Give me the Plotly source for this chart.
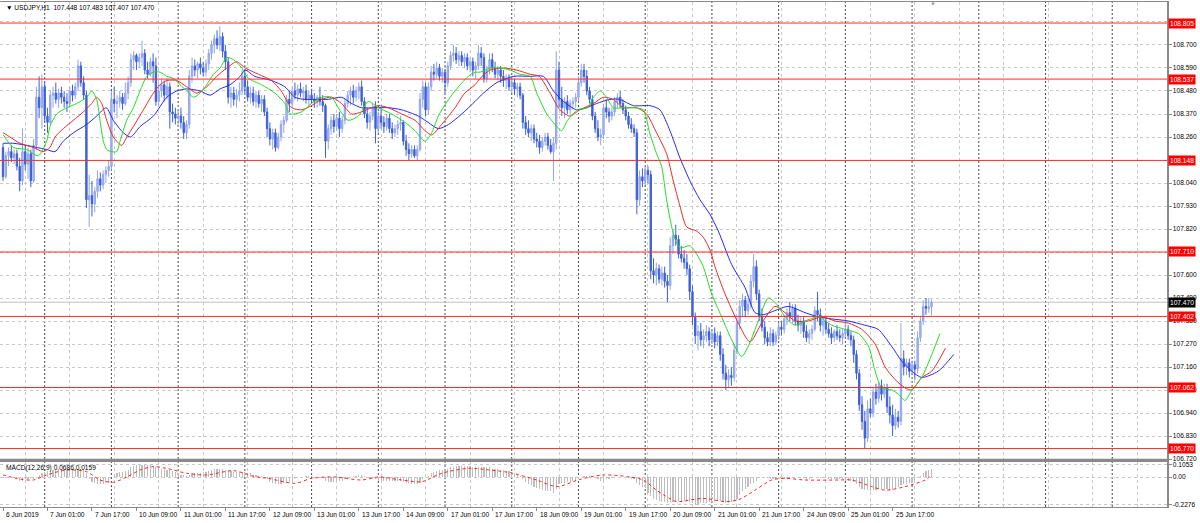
import plotly.graph_objects as go

W, H = 1200, 523

# ---------------- data (USDJPY H1, bar index 0 = 6 Jun 2019 09:00) ----------------
opens = [
108.21,108.07,108.17,108.19,108.16,108.18,108.12,108.05,108.19,108.13,
108.18,108.05,108.22,108.45,108.40,108.50,108.36,108.33,108.46,108.47,
108.44,108.47,108.45,108.43,108.42,108.48,108.46,108.50,108.60,108.52,
108.46,107.96,107.98,107.94,108.00,108.06,108.03,108.08,108.10,108.12,
108.44,108.42,108.43,108.45,108.42,108.47,108.52,108.63,108.65,108.62,
108.64,108.66,108.58,108.56,108.62,108.60,108.43,108.48,108.51,108.46,
108.50,108.38,108.37,108.35,108.36,108.33,108.28,108.32,108.55,108.60,
108.58,108.61,108.59,108.57,108.61,108.66,108.70,108.73,108.70,108.74,
108.67,108.62,108.45,108.47,108.44,108.46,108.48,108.55,108.50,108.45,
108.47,108.43,108.46,108.42,108.44,108.38,108.30,108.25,108.28,108.21,
108.26,108.32,108.34,108.44,108.42,108.48,108.46,108.49,108.47,108.48,
108.44,108.46,108.44,108.43,108.45,108.43,108.41,108.24,108.30,108.34,
108.31,108.35,108.30,108.34,108.42,108.46,108.48,108.45,108.48,108.50,
108.43,108.37,108.33,108.36,108.40,108.30,108.36,108.33,108.31,108.35,
108.30,108.28,108.30,108.32,108.33,108.24,108.20,108.18,108.20,108.17,
108.20,108.44,108.50,108.39,108.50,108.57,108.56,108.59,108.55,108.57,
108.52,108.60,108.65,108.66,108.63,108.65,108.62,108.64,108.60,108.62,
108.58,108.60,108.66,108.64,108.54,108.58,108.63,108.59,108.56,108.58,
108.55,108.53,108.54,108.50,108.52,108.49,108.50,108.46,108.33,108.30,
108.28,108.30,108.25,108.24,108.21,108.24,108.26,108.22,108.19,108.23,
108.58,108.44,108.40,108.43,108.39,108.42,108.43,108.45,108.52,108.58,
108.55,108.48,108.44,108.36,108.30,108.26,108.27,108.40,108.38,108.36,
108.38,108.43,108.45,108.42,108.39,108.36,108.32,108.30,108.28,107.96,
108.07,108.05,108.10,108.08,107.62,107.60,107.63,107.58,107.61,107.57,
107.55,107.74,107.79,107.77,107.70,107.68,107.66,107.63,107.52,107.40,
107.31,107.33,107.29,107.31,107.33,107.29,107.32,107.28,107.31,107.22,
107.13,107.10,107.12,107.11,107.24,107.37,107.45,107.48,107.43,107.46,
107.57,107.64,107.51,107.40,107.35,107.30,107.28,107.32,107.28,107.31,
107.35,107.34,107.39,107.42,107.40,107.44,107.38,107.36,107.38,107.33,
107.30,107.32,107.34,107.43,107.41,107.36,107.38,107.34,107.32,107.30,
107.33,107.31,107.30,107.32,107.34,107.31,107.29,107.22,107.13,106.98,
106.90,106.82,106.96,106.94,107.04,107.01,107.07,107.03,107.06,106.97,
106.93,106.88,106.92,106.90,107.20,107.16,107.18,107.14,107.17,107.15,
107.30,107.38,107.45,107.44,107.448]

highs = [
108.23,108.19,108.21,108.22,108.20,108.20,108.16,108.30,108.22,108.21,
108.20,108.25,108.50,108.55,108.56,108.52,108.40,108.48,108.50,108.52,
108.49,108.50,108.48,108.47,108.50,108.51,108.52,108.63,108.62,108.55,
108.48,108.08,108.05,108.02,108.10,108.09,108.10,108.12,108.15,108.48,
108.50,108.46,108.48,108.47,108.52,108.55,108.66,108.67,108.66,108.66,
108.72,108.68,108.62,108.64,108.66,108.64,108.52,108.54,108.53,108.54,
108.52,108.42,108.40,108.39,108.40,108.36,108.34,108.58,108.64,108.63,
108.62,108.64,108.62,108.63,108.68,108.72,108.75,108.77,108.79,108.76,
108.70,108.64,108.50,108.50,108.49,108.52,108.58,108.58,108.53,108.50,
108.50,108.48,108.48,108.46,108.46,108.40,108.33,108.30,108.30,108.28,
108.34,108.36,108.46,108.48,108.50,108.52,108.51,108.52,108.50,108.51,
108.48,108.49,108.47,108.46,108.50,108.46,108.42,108.32,108.36,108.37,
108.37,108.38,108.36,108.44,108.48,108.50,108.51,108.50,108.52,108.53,
108.45,108.40,108.38,108.42,108.43,108.38,108.40,108.36,108.37,108.37,
108.33,108.32,108.34,108.36,108.34,108.27,108.23,108.22,108.22,108.22,
108.47,108.53,108.52,108.52,108.60,108.61,108.62,108.61,108.59,108.58,
108.62,108.67,108.70,108.69,108.67,108.67,108.66,108.66,108.64,108.64,
108.62,108.70,108.69,108.66,108.60,108.66,108.66,108.62,108.60,108.60,
108.58,108.56,108.56,108.54,108.54,108.52,108.52,108.47,108.36,108.34,
108.32,108.32,108.28,108.27,108.26,108.28,108.28,108.25,108.26,108.67,
108.62,108.50,108.45,108.46,108.44,108.45,108.47,108.55,108.61,108.61,
108.58,108.50,108.46,108.38,108.34,108.30,108.42,108.44,108.40,108.40,
108.45,108.47,108.48,108.44,108.41,108.38,108.35,108.32,108.30,108.10,
108.11,108.12,108.12,108.10,107.68,107.66,107.65,107.64,107.64,107.60,
107.78,107.82,107.84,107.79,107.74,107.72,107.70,107.65,107.55,107.42,
107.36,107.37,107.34,107.36,107.35,107.34,107.35,107.33,107.33,107.25,
107.17,107.15,107.16,107.27,107.40,107.48,107.51,107.50,107.49,107.60,
107.70,107.67,107.53,107.44,107.38,107.33,107.35,107.34,107.33,107.37,
107.38,107.41,107.44,107.47,107.46,107.46,107.41,107.40,107.40,107.36,
107.34,107.36,107.45,107.52,107.44,107.40,107.40,107.37,107.35,107.34,
107.36,107.34,107.34,107.40,107.36,107.33,107.31,107.24,107.15,107.02,
106.95,107.00,107.01,107.06,107.08,107.09,107.10,107.08,107.08,107.02,
106.98,106.96,106.95,107.37,107.24,107.20,107.20,107.19,107.19,107.33,
107.40,107.48,107.49,107.49,107.483]

lows = [
108.05,108.06,108.12,108.14,108.13,108.10,108.00,108.03,108.10,108.06,
108.02,108.04,108.20,108.35,108.30,108.33,108.28,108.32,108.40,108.42,
108.40,108.42,108.40,108.38,108.40,108.43,108.44,108.48,108.50,108.44,
107.92,107.83,107.88,107.90,107.97,108.00,108.01,108.04,108.07,108.10,
108.38,108.35,108.40,108.39,108.41,108.44,108.50,108.58,108.58,108.59,
108.60,108.56,108.54,108.55,108.52,108.41,108.41,108.45,108.43,108.44,
108.30,108.33,108.32,108.31,108.30,108.25,108.25,108.30,108.52,108.55,
108.54,108.56,108.55,108.55,108.58,108.63,108.66,108.68,108.67,108.64,
108.58,108.42,108.40,108.41,108.40,108.43,108.46,108.47,108.43,108.42,
108.41,108.40,108.40,108.38,108.36,108.26,108.22,108.20,108.19,108.20,
108.24,108.28,108.33,108.38,108.40,108.44,108.43,108.45,108.43,108.42,
108.41,108.42,108.40,108.40,108.41,108.38,108.16,108.20,108.27,108.28,
108.29,108.26,108.28,108.32,108.40,108.41,108.42,108.43,108.44,108.41,
108.35,108.30,108.29,108.34,108.23,108.28,108.30,108.28,108.29,108.28,
108.25,108.26,108.27,108.29,108.22,108.17,108.15,108.16,108.16,108.15,
108.19,108.40,108.36,108.37,108.48,108.53,108.54,108.53,108.52,108.47,
108.50,108.58,108.62,108.61,108.60,108.60,108.59,108.58,108.57,108.55,
108.54,108.58,108.60,108.52,108.52,108.56,108.57,108.54,108.53,108.52,
108.50,108.49,108.48,108.47,108.46,108.45,108.44,108.30,108.27,108.26,
108.24,108.23,108.21,108.18,108.19,108.22,108.20,108.18,108.05,108.20,
108.40,108.36,108.35,108.37,108.37,108.39,108.40,108.43,108.50,108.52,
108.46,108.42,108.34,108.28,108.24,108.22,108.25,108.35,108.33,108.34,
108.36,108.40,108.40,108.37,108.34,108.30,108.28,108.26,107.89,107.93,
108.02,108.03,108.04,107.58,107.56,107.55,107.56,107.55,107.54,107.47,
107.53,107.70,107.74,107.68,107.66,107.63,107.60,107.48,107.36,107.27,
107.24,107.26,107.25,107.28,107.26,107.27,107.25,107.26,107.19,107.10,
107.05,107.06,107.07,107.09,107.22,107.34,107.40,107.40,107.41,107.44,
107.54,107.48,107.38,107.33,107.27,107.26,107.26,107.26,107.27,107.29,
107.31,107.32,107.36,107.38,107.37,107.36,107.33,107.32,107.30,107.28,
107.27,107.29,107.33,107.38,107.33,107.31,107.32,107.30,107.27,107.28,
107.29,107.28,107.27,107.30,107.29,107.26,107.18,107.10,106.95,106.86,
106.77,106.80,106.92,106.92,106.98,106.99,107.00,107.01,106.94,106.89,
106.83,106.86,106.87,106.88,107.12,107.12,107.11,107.12,107.10,107.13,
107.28,107.36,107.41,107.42,107.407]

closes = [
108.07,108.17,108.19,108.16,108.18,108.12,108.05,108.19,108.13,108.18,
108.05,108.22,108.45,108.40,108.50,108.36,108.33,108.46,108.47,108.44,
108.47,108.45,108.43,108.42,108.48,108.46,108.50,108.60,108.52,108.46,
107.96,107.98,107.94,108.00,108.06,108.03,108.08,108.10,108.12,108.44,
108.42,108.43,108.45,108.42,108.47,108.52,108.63,108.65,108.62,108.64,
108.66,108.58,108.56,108.62,108.60,108.43,108.48,108.51,108.46,108.50,
108.38,108.37,108.35,108.36,108.33,108.28,108.32,108.55,108.60,108.58,
108.61,108.59,108.57,108.61,108.66,108.70,108.73,108.70,108.74,108.67,
108.62,108.45,108.47,108.44,108.46,108.48,108.55,108.50,108.45,108.47,
108.43,108.46,108.42,108.44,108.38,108.30,108.25,108.28,108.21,108.26,
108.32,108.34,108.44,108.42,108.48,108.46,108.49,108.47,108.48,108.44,
108.46,108.44,108.43,108.45,108.43,108.41,108.24,108.30,108.34,108.31,
108.35,108.30,108.34,108.42,108.46,108.48,108.45,108.48,108.50,108.43,
108.37,108.33,108.36,108.40,108.30,108.36,108.33,108.31,108.35,108.30,
108.28,108.30,108.32,108.33,108.24,108.20,108.18,108.20,108.17,108.20,
108.44,108.50,108.39,108.50,108.57,108.56,108.59,108.55,108.57,108.52,
108.60,108.65,108.66,108.63,108.65,108.62,108.64,108.60,108.62,108.58,
108.60,108.66,108.64,108.54,108.58,108.63,108.59,108.56,108.58,108.55,
108.53,108.54,108.50,108.52,108.49,108.50,108.46,108.33,108.30,108.28,
108.30,108.25,108.24,108.21,108.24,108.26,108.22,108.19,108.23,108.58,
108.44,108.40,108.43,108.39,108.42,108.43,108.45,108.52,108.58,108.55,
108.48,108.44,108.36,108.30,108.26,108.27,108.40,108.38,108.36,108.38,
108.43,108.45,108.42,108.39,108.36,108.32,108.30,108.28,107.96,108.07,
108.05,108.10,108.08,107.62,107.60,107.63,107.58,107.61,107.57,107.55,
107.74,107.79,107.77,107.70,107.68,107.66,107.63,107.52,107.40,107.31,
107.33,107.29,107.31,107.33,107.29,107.32,107.28,107.31,107.22,107.13,
107.10,107.12,107.11,107.24,107.37,107.45,107.48,107.43,107.46,107.57,
107.64,107.51,107.40,107.35,107.30,107.28,107.32,107.28,107.31,107.35,
107.34,107.39,107.42,107.40,107.44,107.38,107.36,107.38,107.33,107.30,
107.32,107.34,107.43,107.41,107.36,107.38,107.34,107.32,107.30,107.33,
107.31,107.30,107.32,107.34,107.31,107.29,107.22,107.13,106.98,106.90,
106.82,106.96,106.94,107.04,107.01,107.07,107.03,107.06,106.97,106.93,
106.88,106.92,106.90,107.20,107.16,107.18,107.14,107.17,107.15,107.30,
107.38,107.45,107.44,107.448,107.470]

# Alligator (bar index incl. forward shift)
jaw_i = [0.1,3.7,8.5,12.1,15.7,18.7,21.7,25.3,30.1,33.7,37.1,39.7,43.3,45.9,49.3,54.1,58.9,62.5,66.1,70.9,
         74.5,78.1,81.7,85.3,87.1,90.6,96.6,101.4,105.0,108.6,112.2,117.0,121.8,125.4,129.0,133.8,138.6,143.4,149.4,152.9,
         156.6,160.3,165.0,169.8,172.8,177.6,183.6,189.6,194.4,198.0,201.6,206.3,209.9,213.5,218.3,221.9,226.7,232.7,236.3,239.9,
         243.5,247.1,250.7,254.3,257.3,262.1,266.9,270.5,273.5,277.7,282.4,288.5,293.3,298.1,304.1,310.0,314.8,319.6,323.2,326.9,
         330.5,336.4,342.0]
jaw_p = [108.23,108.23,108.22,108.21,108.20,108.19,108.24,108.28,108.32,108.36,108.40,108.34,108.28,108.26,108.31,108.36,108.45,108.48,108.49,108.48,
         108.46,108.49,108.51,108.55,108.58,108.55,108.53,108.50,108.45,108.44,108.44,108.44,108.45,108.42,108.40,108.40,108.40,108.39,108.36,108.33,
         108.30,108.32,108.37,108.43,108.47,108.52,108.55,108.55,108.55,108.48,108.43,108.39,108.40,108.42,108.44,108.44,108.41,108.41,108.39,108.29,
         108.16,108.05,107.96,107.89,107.81,107.65,107.54,107.42,107.41,107.43,107.45,107.42,107.40,107.39,107.38,107.36,107.34,107.26,107.19,107.14,
         107.11,107.14,107.22]
teeth_i = [0.1,2.5,6.1,10.9,14.5,16.9,18.7,21.7,25.3,28.9,31.9,33.7,35.5,37.3,39.7,42.7,44.5,46.9,50.5,54.1,
           56.5,58.9,62.5,66.1,69.7,73.3,76.9,80.5,84.1,87.1,91.9,96.6,100.1,103.8,107.4,111.0,114.6,118.2,121.8,125.4,
           129.0,132.6,135.0,138.6,143.4,148.2,151.8,154.2,157.8,162.6,166.1,169.8,171.6,175.2,180.0,184.8,189.6,192.9,196.8,200.3,
           203.9,207.5,212.4,215.9,219.5,223.1,227.9,231.5,235.1,238.7,241.1,243.5,245.9,249.5,251.9,254.3,256.1,259.7,264.5,268.7,
           272.9,277.7,281.3,284.9,289.7,294.5,299.3,304.1,308.9,313.7,317.3,320.9,324.5,326.9,330.5,334.1,339.0]
teeth_p = [108.28,108.26,108.23,108.21,108.19,108.21,108.26,108.30,108.34,108.38,108.42,108.45,108.42,108.34,108.26,108.22,108.26,108.31,108.39,108.47,
           108.51,108.53,108.53,108.50,108.47,108.50,108.55,108.59,108.62,108.59,108.56,108.53,108.48,108.40,108.39,108.41,108.44,108.45,108.42,108.37,
           108.38,108.40,108.41,108.40,108.37,108.34,108.29,108.27,108.32,108.40,108.47,108.51,108.54,108.58,108.59,108.58,108.56,108.55,108.47,108.39,
           108.36,108.39,108.42,108.45,108.44,108.40,108.40,108.37,108.28,108.18,108.05,107.93,107.83,107.81,107.78,107.72,107.64,107.51,107.37,107.28,
           107.37,107.45,107.42,107.38,107.38,107.40,107.38,107.37,107.34,107.27,107.16,107.10,107.06,107.05,107.11,107.14,107.25]
lips_i = [0.1,3.7,8.5,12.7,15.7,16.9,19.3,22.9,26.5,30.1,31.9,33.7,34.9,36.1,37.3,39.1,40.9,42.1,44.5,46.9,
          49.3,51.7,54.1,56.5,58.9,61.3,63.7,66.1,68.5,70.9,73.3,75.7,78.1,80.5,82.9,85.9,88.3,93.0,97.8,101.4,
          103.2,107.4,110.9,114.6,118.2,120.6,124.1,127.8,131.4,135.0,139.8,144.6,148.2,151.8,154.2,156.6,160.3,163.8,167.4,169.8,
          171.6,175.2,178.8,182.4,186.0,189.6,192.0,195.6,198.6,200.9,203.1,206.7,210.3,212.4,214.8,217.1,219.5,223.1,226.7,230.3,
          232.6,235.1,236.9,238.7,241.1,243.5,247.1,249.5,251.9,254.9,258.5,262.1,265.7,268.1,271.7,275.3,278.3,281.3,284.9,288.5,
          293.3,298.1,302.9,307.7,311.3,313.7,316.1,319.7,322.1,324.5,326.9,330.5,334.1,337.0]
lips_p = [108.27,108.21,108.20,108.17,108.24,108.31,108.37,108.40,108.42,108.45,108.48,108.44,108.34,108.24,108.20,108.19,108.19,108.24,108.34,108.40,
          108.48,108.55,108.57,108.57,108.55,108.54,108.51,108.48,108.45,108.47,108.51,108.56,108.59,108.64,108.63,108.59,108.54,108.51,108.47,108.42,
          108.37,108.38,108.42,108.45,108.45,108.40,108.34,108.36,108.43,108.40,108.37,108.33,108.29,108.24,108.28,108.36,108.44,108.50,108.55,108.57,
          108.57,108.59,108.59,108.58,108.56,108.55,108.47,108.37,108.32,108.29,108.34,108.39,108.40,108.45,108.48,108.45,108.40,108.40,108.40,108.39,
          108.28,108.18,108.12,107.96,107.80,107.73,107.74,107.70,107.64,107.51,107.40,107.29,107.21,107.26,107.38,107.49,107.46,107.40,107.36,107.38,
          107.40,107.36,107.34,107.32,107.26,107.14,107.06,107.05,107.03,107.00,107.05,107.11,107.22,107.32]

# MACD(12,26,9)
macd_hist = [
-0.01,-0.01,0.0,0.0,-0.01,-0.02,-0.03,-0.03,-0.02,-0.02,-0.01,-0.02,0.0,0.02,0.03,
0.04,0.05,0.05,0.06,0.06,0.06,0.06,0.06,0.06,0.06,0.06,0.07,0.07,0.07,0.06,0.03,
-0.02,-0.04,-0.05,-0.06,-0.06,-0.06,-0.05,-0.04,
0.0,0.02,0.03,0.04,0.04,0.05,0.06,
0.08,0.09,0.1,0.1,0.1,0.1,0.1,0.1,0.09,0.08,0.08,0.07,0.07,0.06,0.06,
0.05,0.04,0.03,0.02,0.02,0.01,0.02,0.03,
0.03,0.03,0.03,0.04,0.04,0.05,0.06,0.07,0.07,0.07,0.07,0.06,0.05,0.05,0.04,0.04,0.04,
0.04,0.04,0.03,0.03,0.02,0.02,0.01,0.01,0.0,
-0.02,-0.04,-0.05,-0.06,-0.06,-0.06,-0.05,-0.05,-0.04,-0.03,-0.02,
-0.01,0.0,0.0,0.01,0.01,0.01,0.0,0.0,0.0,-0.01,
-0.03,-0.04,-0.04,-0.04,-0.03,-0.03,-0.03,-0.02,
-0.01,0.0,0.01,0.01,0.02,0.02,0.01,0.0,-0.01,
-0.02,-0.02,-0.03,-0.03,-0.03,-0.03,-0.03,-0.03,-0.03,-0.03,-0.03,
-0.04,-0.05,-0.05,-0.06,-0.06,-0.06,-0.05,
-0.02,0.0,0.01,0.03,0.04,0.05,0.06,0.06,0.06,0.07,
0.08,0.08,0.09,0.09,0.09,0.09,0.09,0.09,0.08,0.08,
0.08,0.08,0.08,0.08,0.08,0.07,0.07,0.07,0.06,0.06,0.05,0.05,
0.04,0.03,0.02,0.01,-0.02,-0.04,-0.06,-0.07,-0.08,
-0.09,-0.1,-0.11,-0.12,-0.12,-0.12,-0.13,-0.1,
-0.06,-0.05,-0.05,-0.04,-0.04,-0.03,-0.03,-0.02,
0.0,0.01,0.01,0.01,0.0,-0.01,-0.02,-0.03,-0.03,-0.02,-0.02,-0.01,-0.01,
0.0,0.0,0.0,-0.01,-0.01,-0.02,-0.02,-0.05,-0.07,-0.08,
-0.09,-0.13,-0.16,-0.18,-0.19,-0.2,-0.21,-0.21,-0.22,-0.22,
-0.21,-0.2,-0.2,-0.2,-0.2,-0.2,-0.21,-0.22,-0.23,-0.23,-0.22,-0.22,
-0.22,-0.21,-0.21,-0.21,-0.2,-0.2,-0.21,-0.22,-0.22,-0.21,-0.2,-0.18,-0.15,-0.12,-0.1,-0.08,-0.06,
-0.05,-0.03,-0.01,0.0,0.0,-0.01,-0.02,
-0.02,-0.02,-0.02,-0.02,-0.02,-0.01,-0.01,-0.01,0.0,-0.01,-0.01,-0.01,-0.02,-0.02,-0.01,0.0,0.0,-0.01,-0.01,-0.01,
-0.02,-0.02,-0.02,-0.02,-0.02,-0.02,-0.03,-0.03,-0.03,
-0.04,-0.06,-0.08,-0.1,-0.11,-0.11,-0.12,-0.11,-0.11,-0.1,-0.1,-0.1,-0.1,-0.11,-0.11,-0.1,-0.08,-0.07,
-0.06,-0.06,-0.05,-0.05,-0.03,-0.01,0.01,0.03,0.05,0.06,0.07]
sig_i = [0,6.1,10.9,15.7,22.9,30.1,34.9,39.7,44.5,49.3,54.1,58.9,66.1,73.3,82.9,90.6,95.4,105.0,111.0,119.4,
         129.0,135.0,143.4,150.6,157.8,167.4,175.2,182.4,192.0,199.2,207.5,215.9,225.5,230.3,235.1,239.9,242.3,251.9,259.7,264.5,
         270.5,276.5,281.3,288.5,300.5,305.3,312.5,317.3,324.5,331.7,334]
sig_v = [0.017,-0.017,-0.025,0.017,0.058,0.044,-0.025,-0.044,0.0,0.058,0.086,0.072,0.031,0.017,0.053,0.003,-0.011,-0.053,-0.011,0.0,
         -0.025,0.0,-0.025,-0.039,0.031,0.072,0.058,0.036,-0.025,-0.08,-0.02,0.017,0.0,-0.025,-0.11,-0.18,-0.205,-0.178,-0.205,-0.19,
         -0.11,-0.025,-0.011,-0.025,-0.025,-0.025,-0.08,-0.11,-0.08,-0.025,0.016]

levels = [108.805, 108.537, 108.148, 107.710, 107.402, 107.062, 106.770]
last_price = 107.470
price_ticks = [106.72,106.83,106.94,107.05,107.16,107.27,107.38,107.49,107.60,107.71,
               107.82,107.93,108.04,108.15,108.26,108.37,108.48,108.59,108.70,108.81]
hidden_ticks = [107.71, 108.15, 108.81]   # fully covered by level labels in the original
macd_ticks = [0.1053, 0.0, -0.2276]
macd_ticktext = ['0.1053', '0.00', '-0.2276']
label_bars = [0,16,32,48,64,80,96,112,128,144,160,176,192,208,224,240,256,272,288,304,320]
label_text = ['6 Jun 2019','7 Jun 01:00','7 Jun 17:00','10 Jun 09:00','11 Jun 01:00','11 Jun 17:00',
              '12 Jun 09:00','13 Jun 01:00','13 Jun 17:00','14 Jun 09:00','17 Jun 01:00','17 Jun 17:00',
              '18 Jun 09:00','19 Jun 01:00','19 Jun 17:00','20 Jun 09:00','21 Jun 01:00','21 Jun 17:00',
              '24 Jun 09:00','25 Jun 01:00','25 Jun 17:00']
day_start_bars = [15,39,63,87,111,135,159,183,207,231,255,279,303,327,351,375,399]

bars = list(range(len(closes)))

# ---------------- layout helpers (pixels) ----------------
def py(y):
    return 1 - y / H

XR = [-1.08, 418.7]
X_DOM = [0, 1167 / W]
MAIN_DOM = [py(460), py(2)]
MACD_DOM = [py(507), py(462)]
grid_pos = list(range(8, 419, 16))
FONT = 'Liberation Sans'
FS = 6.6
GRID = '#c8c8c8'
FRAME = '#8a8a8a'

fig = go.Figure()
fig.add_trace(go.Candlestick(
    x=bars, open=opens, high=highs, low=lows, close=closes,
    increasing=dict(line=dict(color='#8ea4ea', width=1), fillcolor='#aebdf0'),
    decreasing=dict(line=dict(color='#3d5fd9', width=1), fillcolor='#3d5fd9'),
    whiskerwidth=0, showlegend=False, hoverinfo='skip', xaxis='x', yaxis='y'))

for xi, yp, col in [(jaw_i, jaw_p, '#2828f0'), (teeth_i, teeth_p, '#f02828'), (lips_i, lips_p, '#22dd22')]:
    fig.add_trace(go.Scatter(x=xi, y=yp, mode='lines', xaxis='x', yaxis='y',
                             line=dict(color=col, width=1, shape='spline', smoothing=0.7),
                             showlegend=False, hoverinfo='skip'))

fig.add_trace(go.Bar(x=bars, y=macd_hist, width=0.42, xaxis='x2', yaxis='y2',
                     marker=dict(color='#bdbdbd', line=dict(width=0)),
                     showlegend=False, hoverinfo='skip'))
fig.add_trace(go.Scatter(x=sig_i, y=sig_v, mode='lines', xaxis='x2', yaxis='y2',
                         line=dict(color='#ff2020', width=1, dash='dot', shape='spline', smoothing=0.8),
                         showlegend=False, hoverinfo='skip'))

shapes = []
for d in day_start_bars:
    shapes.append(dict(type='line', xref='x', yref='paper', x0=d, x1=d, y0=MACD_DOM[0], y1=MAIN_DOM[1],
                       line=dict(color='#4a4a4a', width=1, dash='2px,2px'), layer='below'))
shapes.append(dict(type='line', xref='x domain', yref='y', x0=0, x1=1, y0=last_price, y1=last_price,
                   line=dict(color='#c0c0c0', width=1), layer='below'))
for lv in levels:
    shapes.append(dict(type='line', xref='x domain', yref='y', x0=0, x1=1, y0=lv, y1=lv,
                       line=dict(color='#ff2a2a', width=1)))
# separator between panes
shapes.append(dict(type='line', xref='paper', yref='paper', x0=0, x1=X_DOM[1], y0=py(459.5), y1=py(459.5),
                   line=dict(color=FRAME, width=1.5)))

annotations = []
for lv in levels:
    annotations.append(dict(x=1168 / W, xref='paper', xanchor='left', y=lv, yref='y', yanchor='middle',
                            text=f'{lv:.3f}', showarrow=False, bgcolor='#ff0000', borderpad=1,
                            font=dict(family=FONT, size=FS, color='white')))
annotations.append(dict(x=1168 / W, xref='paper', xanchor='left', y=last_price, yref='y', yanchor='middle',
                        text=f'{last_price:.3f}', showarrow=False, bgcolor='#000000', borderpad=1,
                        font=dict(family=FONT, size=FS, color='white')))
annotations.append(dict(x=4 / W, xref='paper', xanchor='left', y=py(8), yref='paper', yanchor='middle',
                        text='\u25bc USDJPY,H1  107.448 107.483 107.407 107.470', showarrow=False,
                        font=dict(family=FONT, size=FS, color='black')))
annotations.append(dict(x=4 / W, xref='paper', xanchor='left', y=py(468), yref='paper', yanchor='middle',
                        text='MACD(12,26,9) 0.0686 0.0159', showarrow=False,
                        font=dict(family=FONT, size=FS, color='black')))
annotations.append(dict(x=933 / W, xref='paper', xanchor='center', y=py(4), yref='paper', yanchor='middle',
                        text='\u25bc', showarrow=False, font=dict(family=FONT, size=6, color='#a0a0a0')))
for b, t in zip(label_bars, label_text):
    annotations.append(dict(x=b, xref='x2', xanchor='left', xshift=1, y=py(514), yref='paper', yanchor='middle',
                            text=t, showarrow=False, font=dict(family=FONT, size=FS, color='black')))

fig.update_layout(
    width=W, height=H, margin=dict(l=0, r=0, t=0, b=0),
    paper_bgcolor='white', plot_bgcolor='white', showlegend=False, bargap=0,
    font=dict(family=FONT, size=FS, color='black'),
    xaxis=dict(domain=X_DOM, range=XR, anchor='y', showticklabels=False, ticks='',
               tickvals=grid_pos, showgrid=True, gridcolor=GRID, griddash='3px,3px', gridwidth=1,
               zeroline=False, showline=True, linecolor=FRAME, mirror=True,
               rangeslider=dict(visible=False), fixedrange=True),
    yaxis=dict(domain=MAIN_DOM, range=[106.7153, 108.9056], anchor='x', side='right',
               tickvals=price_ticks,
               ticktext=['' if v in hidden_ticks else f'{v:.3f}' for v in price_ticks],
               ticks='outside', ticklen=3, tickcolor=FRAME, tickfont=dict(family=FONT, size=FS, color='black'),
               showgrid=True, gridcolor=GRID, griddash='3px,3px', gridwidth=1,
               zeroline=False, showline=True, linecolor=FRAME, linewidth=1.5, mirror=True, automargin=False,
               fixedrange=True),
    xaxis2=dict(domain=X_DOM, range=XR, anchor='y2', showticklabels=False, ticks='outside', ticklen=3,
                tickcolor=FRAME, tickvals=label_bars, showgrid=False,
                minor=dict(tickvals=grid_pos, showgrid=True, gridcolor=GRID, griddash='3px,3px', ticks=''),
                zeroline=False, showline=True, linecolor=FRAME, mirror=True, fixedrange=True),
    yaxis2=dict(domain=MACD_DOM, range=[-0.25, 0.125], anchor='x2', side='right',
                tickvals=macd_ticks, ticktext=macd_ticktext, ticks='outside', ticklen=3, tickcolor=FRAME,
                tickfont=dict(family=FONT, size=FS, color='black'),
                showgrid=True, gridcolor=GRID, griddash='3px,3px', zeroline=False,
                showline=True, linecolor=FRAME, linewidth=1.5, mirror=True, automargin=False,
                fixedrange=True),
    shapes=shapes, annotations=annotations,
)

fig.write_html('out.html', config={'displayModeBar': False, 'staticPlot': True},
               post_script="document.body.style.margin='0px';document.body.style.padding='0px';"
                           "document.documentElement.style.overflow='hidden';")
